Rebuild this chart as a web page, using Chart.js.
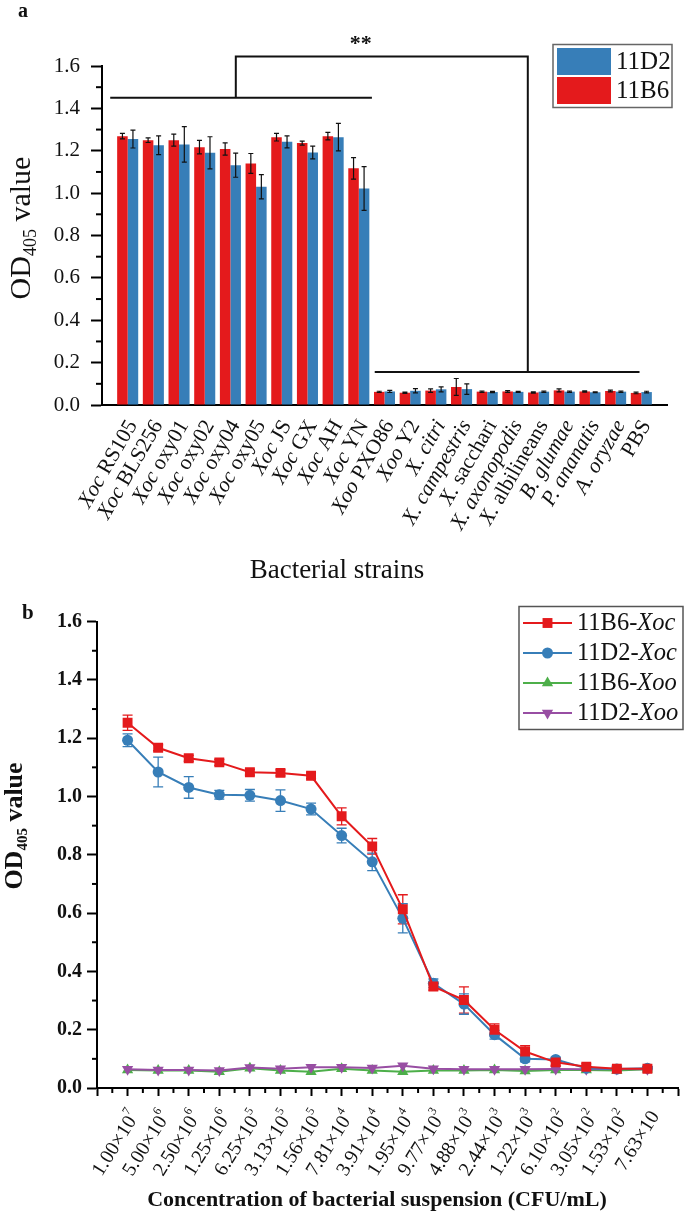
<!DOCTYPE html>
<html>
<head>
<meta charset="utf-8">
<script src="https://cdn.jsdelivr.net/npm/chart.js@4.4.1/dist/chart.umd.min.js"></script>
<style>
  html, body { margin: 0; padding: 0; background: #fff; }
  .wrap { position: relative; width: 685px; height: 1215px; }
  canvas { position: absolute; left: 0; }
  #chartA { top: 0; }
  #chartB { top: 600px; }
</style>
</head>
<body>
<div class="wrap">
  <canvas id="chartA" width="685" height="600"></canvas>
  <canvas id="chartB" width="685" height="615"></canvas>
</div>
<script>
// ---- panel a: strain specificity ----
const strains = ["Xoc RS105", "Xoc BLS256", "Xoc oxy01", "Xoc oxy02", "Xoc oxy04", "Xoc oxy05",
  "Xoc JS", "Xoc GX", "Xoc AH", "Xoc YN", "Xoo PXO86", "Xoo Y2", "X. citri", "X. campestris",
  "X. sacchari", "X. axonopodis", "X. albilineans", "B. glumae", "P. ananatis", "A. oryzae", "PBS"];
// italic leading part of each strain label
const strainItalic = ["Xoc", "Xoc", "Xoc", "Xoc", "Xoc", "Xoc", "Xoc", "Xoc", "Xoc", "Xoc", "Xoo", "Xoo",
  "X. citri", "X. campestris", "X.", "X. axonopodis", "X.", "B. glumae", "P. ananatis", "A. oryzae", ""];
const od11B6 = [1.269, 1.250, 1.250, 1.217, 1.208, 1.140, 1.264, 1.236, 1.269, 1.117,
  0.062, 0.058, 0.068, 0.085, 0.063, 0.064, 0.059, 0.069, 0.064, 0.066, 0.057];
const err11B6 = [0.013, 0.011, 0.028, 0.032, 0.029, 0.047, 0.018, 0.009, 0.018, 0.051,
  0.003, 0.003, 0.008, 0.040, 0.003, 0.004, 0.003, 0.007, 0.003, 0.004, 0.004];
const od11D2 = [1.255, 1.226, 1.230, 1.190, 1.132, 1.030, 1.242, 1.192, 1.264, 1.022,
  0.064, 0.067, 0.074, 0.075, 0.061, 0.062, 0.063, 0.063, 0.060, 0.063, 0.061];
const err11D2 = [0.042, 0.044, 0.084, 0.076, 0.057, 0.057, 0.028, 0.030, 0.065, 0.103,
  0.005, 0.010, 0.012, 0.025, 0.003, 0.002, 0.003, 0.003, 0.002, 0.003, 0.004];

// ---- panel b: sensitivity ----
const concMantissa = ["1.00", "5.00", "2.50", "1.25", "6.25", "3.13", "1.56", "7.81", "3.91",
  "1.95", "9.77", "4.88", "2.44", "1.22", "6.10", "3.05", "1.53", "7.63"];
const concExponent = ["7", "6", "6", "6", "5", "5", "5", "4", "4", "4", "3", "3", "3", "3", "2", "2", "2", ""];
const b6Xoc = [1.253, 1.167, 1.131, 1.117, 1.083, 1.081, 1.071, 0.932, 0.829, 0.613,
  0.348, 0.302, 0.200, 0.125, 0.088, 0.073, 0.066, 0.066];
const b6XocErr = [0.026, 0.010, 0.010, 0.010, 0.010, 0.010, 0.010, 0.029, 0.027, 0.050,
  0.012, 0.045, 0.020, 0.020, 0.010, 0.010, 0.005, 0.005];
const d2Xoc = [1.193, 1.084, 1.031, 1.006, 1.004, 0.986, 0.957, 0.866, 0.776, 0.582,
  0.359, 0.288, 0.183, 0.100, 0.098, 0.068, 0.065, 0.068];
const d2XocErr = [0.022, 0.051, 0.037, 0.015, 0.020, 0.037, 0.020, 0.025, 0.030, 0.050,
  0.015, 0.035, 0.015, 0.010, 0.008, 0.005, 0.005, 0.005];
const b6Xoo = [0.062, 0.060, 0.060, 0.056, 0.068, 0.060, 0.056, 0.066, 0.060, 0.056,
  0.060, 0.060, 0.062, 0.058, 0.062, 0.062, 0.060, 0.064];
const d2Xoo = [0.064, 0.062, 0.062, 0.060, 0.070, 0.066, 0.071, 0.071, 0.069, 0.076,
  0.066, 0.064, 0.064, 0.064, 0.065, 0.064, 0.065, 0.064];

const RED = "#e41a1c";
const BLUE = "#377eb8";
const GREEN = "#4daf4a";
const PURPLE = "#984ea3";
const SERIF = '"Liberation Serif", "Times New Roman", serif';

Chart.defaults.font.family = SERIF;
Chart.defaults.color = "#111";

// draw a run of text pieces, anchored by its right/center/left end, rotated ccw by angle
function drawParts(ctx, parts, x, y, opts) {
  const { angle = 0, align = "right", size = 20, weight = "normal", baseline = "middle" } = opts;
  const fontFor = (p) => `${p.italic ? "italic " : ""}${weight} ${p.size || size}px ${SERIF}`;
  let total = 0;
  parts.forEach((p) => { ctx.font = fontFor(p); total += ctx.measureText(p.text).width; });
  ctx.save();
  ctx.translate(x, y);
  ctx.rotate(-angle * Math.PI / 180);
  ctx.textBaseline = baseline;
  ctx.textAlign = "left";
  let cx = align === "right" ? -total : align === "center" ? -total / 2 : 0;
  parts.forEach((p) => {
    ctx.font = fontFor(p);
    ctx.fillText(p.text, cx, p.dy || 0);
    cx += ctx.measureText(p.text).width;
  });
  ctx.restore();
}

function pad(arr) {
  return [null, ...arr, null];
}

function zeroPadding(scale) {
  scale.paddingTop = 0;
  scale.paddingBottom = 0;
  scale.paddingLeft = 0;
  scale.paddingRight = 0;
}

function minorTicks(ctx, scale, values, len, vertical) {
  const area = scale.chart.chartArea;
  ctx.save();
  ctx.strokeStyle = "#000";
  ctx.lineWidth = 2;
  values.forEach((v) => {
    const p = scale.getPixelForValue(v);
    ctx.beginPath();
    if (vertical) {
      ctx.moveTo(area.left - len, p);
      ctx.lineTo(area.left, p);
    } else {
      ctx.moveTo(p, area.bottom);
      ctx.lineTo(p, area.bottom + len);
    }
    ctx.stroke();
  });
  ctx.restore();
}

const halfSteps = [0.1, 0.3, 0.5, 0.7, 0.9, 1.1, 1.3, 1.5];

// significance bracket, in (strain index, OD) units
const bracket = [
  [[-0.68, 1.45], [9.51, 1.45]],
  [[4.21, 1.45], [4.21, 1.645], [15.58, 1.645], [15.58, 0.156]],
  [[9.62, 0.156], [19.93, 0.156]],
];

const errorBarsA = {
  id: "errorBarsA",
  afterDatasetsDraw(chart) {
    const { ctx } = chart;
    const y = chart.scales.y;
    ctx.save();
    ctx.strokeStyle = "#111";
    ctx.lineWidth = 1.2;
    chart.data.datasets.forEach((ds, di) => {
      chart.getDatasetMeta(di).data.forEach((bar, i) => {
        const v = ds.data[i];
        if (v == null) return;
        const e = ds.errors[i];
        const t = y.getPixelForValue(v + e);
        const b = y.getPixelForValue(v - e);
        ctx.beginPath();
        ctx.moveTo(bar.x, t); ctx.lineTo(bar.x, b);
        ctx.moveTo(bar.x - 2.5, t); ctx.lineTo(bar.x + 2.5, t);
        ctx.moveTo(bar.x - 2.5, b); ctx.lineTo(bar.x + 2.5, b);
        ctx.stroke();
      });
    });
    ctx.restore();
  },
};

const decorA = {
  id: "decorA",
  afterDraw(chart) {
    const { ctx, chartArea } = chart;
    const { x, y } = chart.scales;
    minorTicks(ctx, y, halfSteps, 6, true);

    // strain labels
    ctx.fillStyle = "#111";
    strains.forEach((name, i) => {
      const it = strainItalic[i];
      const rest = name.slice(it.length);
      const parts = [];
      if (it) parts.push({ text: it, italic: true });
      if (rest) parts.push({ text: rest, italic: false });
      drawParts(ctx, parts, x.getPixelForValue(i + 1) + 5, chartArea.bottom + 17, { angle: 60, size: 21.5 });
    });
    drawParts(ctx, [{ text: "Bacterial strains" }], 337, 571, { align: "center", size: 27 });

    // y title
    drawParts(ctx, [{ text: "OD" }, { text: "405", size: 18, dy: 9 }, { text: " value" }], 22, 228,
      { angle: 90, align: "center", size: 30 });

    // panel letter
    drawParts(ctx, [{ text: "a" }], 18, 12, { align: "left", size: 20, weight: "bold" });

    // bracket
    ctx.save();
    ctx.strokeStyle = "#111";
    ctx.lineWidth = 2;
    bracket.forEach((path) => {
      ctx.beginPath();
      path.forEach(([px, py], k) => {
        const X = x.getPixelForValue(px + 1);
        const Y = y.getPixelForValue(py);
        if (k === 0) ctx.moveTo(X, Y); else ctx.lineTo(X, Y);
      });
      ctx.stroke();
    });
    ctx.restore();
    drawParts(ctx, [{ text: "**" }], x.getPixelForValue(10.08), 50,
      { align: "center", size: 22, weight: "bold", baseline: "alphabetic" });

    // legend
    ctx.save();
    ctx.strokeStyle = "#666";
    ctx.lineWidth = 1.5;
    ctx.strokeRect(553, 44.5, 119, 63);
    ctx.fillStyle = BLUE;
    ctx.fillRect(557, 48, 54, 27);
    ctx.fillStyle = RED;
    ctx.fillRect(557, 77, 54, 27);
    ctx.restore();
    ctx.fillStyle = "#111";
    drawParts(ctx, [{ text: "11D2" }], 616, 62, { align: "left", size: 25 });
    drawParts(ctx, [{ text: "11B6" }], 616, 91, { align: "left", size: 25 });
  },
};

new Chart(document.getElementById("chartA"), {
  type: "bar",
  data: {
    labels: pad(strains).map((s) => s || ""),
    datasets: [
      { label: "11B6", data: pad(od11B6), errors: pad(err11B6), backgroundColor: RED },
      { label: "11D2", data: pad(od11D2), errors: pad(err11D2), backgroundColor: BLUE },
    ],
  },
  options: {
    responsive: false,
    animation: false,
    devicePixelRatio: 1,
    layout: { padding: { top: 66, right: 18, bottom: 0, left: 0 } },
    datasets: { bar: { categoryPercentage: 0.82, barPercentage: 1 } },
    plugins: { legend: { display: false }, tooltip: { enabled: false } },
    scales: {
      x: {
        offset: false,
        grid: { display: false },
        ticks: { display: false },
        border: { color: "#000", width: 2 },
        afterFit(scale) { scale.height = 195; zeroPadding(scale); },
      },
      y: {
        min: 0,
        max: 1.6,
        ticks: {
          stepSize: 0.2,
          padding: 11,
          color: "#111",
          font: { size: 21 },
          callback: (v) => v.toFixed(1),
        },
        grid: { drawOnChartArea: false, tickLength: 11, tickColor: "#000", tickWidth: 2 },
        border: { color: "#000", width: 2 },
        afterFit(scale) { scale.width = 102; zeroPadding(scale); },
      },
    },
  },
  plugins: [errorBarsA, decorA],
});

// ---- chart b ----
const seriesB = [
  { name: "11B6-", tag: "Xoc", data: b6Xoc, errors: b6XocErr, color: RED, style: "rect", radius: 7, rotation: 0, order: 0 },
  { name: "11D2-", tag: "Xoc", data: d2Xoc, errors: d2XocErr, color: BLUE, style: "circle", radius: 5.5, rotation: 0, order: 1 },
  { name: "11B6-", tag: "Xoo", data: b6Xoo, errors: null, color: GREEN, style: "triangle", radius: 6.5, rotation: 0, order: 3 },
  { name: "11D2-", tag: "Xoo", data: d2Xoo, errors: null, color: PURPLE, style: "triangle", radius: 6.5, rotation: 180, order: 2 },
];

function drawMarker(ctx, s, x, y) {
  ctx.save();
  ctx.fillStyle = s.color;
  ctx.translate(x, y);
  ctx.rotate(s.rotation * Math.PI / 180);
  ctx.beginPath();
  if (s.style === "rect") {
    const h = s.radius * Math.SQRT1_2;
    ctx.rect(-h, -h, 2 * h, 2 * h);
  } else if (s.style === "circle") {
    ctx.arc(0, 0, s.radius, 0, Math.PI * 2);
  } else {
    const r = s.radius;
    ctx.moveTo(0, -r);
    ctx.lineTo(r * 0.866, r * 0.5);
    ctx.lineTo(-r * 0.866, r * 0.5);
    ctx.closePath();
  }
  ctx.fill();
  ctx.restore();
}

const errorBarsB = {
  id: "errorBarsB",
  beforeDatasetsDraw(chart) {
    const { ctx } = chart;
    const { x, y } = chart.scales;
    ctx.save();
    ctx.lineWidth = 1.3;
    seriesB.forEach((s) => {
      if (!s.errors) return;
      ctx.strokeStyle = s.color;
      s.data.forEach((v, i) => {
        const X = x.getPixelForValue(i);
        const t = y.getPixelForValue(v + s.errors[i]);
        const b = y.getPixelForValue(v - s.errors[i]);
        ctx.beginPath();
        ctx.moveTo(X, t); ctx.lineTo(X, b);
        ctx.moveTo(X - 5, t); ctx.lineTo(X + 5, t);
        ctx.moveTo(X - 5, b); ctx.lineTo(X + 5, b);
        ctx.stroke();
      });
    });
    ctx.restore();
  },
};

const decorB = {
  id: "decorB",
  afterDraw(chart) {
    const { ctx, chartArea } = chart;
    const { x, y } = chart.scales;
    minorTicks(ctx, y, halfSteps, 5, true);
    minorTicks(ctx, x, concMantissa.map((_, i) => i - 0.5).concat([17.5]), 5, false);

    ctx.fillStyle = "#111";
    concMantissa.forEach((m, i) => {
      const parts = [{ text: m + "\u00d710" }];
      if (concExponent[i]) parts.push({ text: concExponent[i], size: 12, dy: -8 });
      drawParts(ctx, parts, x.getPixelForValue(i) + 8, chartArea.bottom + 25, { angle: 58, size: 20 });
    });
    drawParts(ctx, [{ text: "Concentration of bacterial suspension (CFU/mL)" }], 377, 600,
      { align: "center", size: 22, weight: "bold" });

    drawParts(ctx, [{ text: "OD" }, { text: "405", size: 15, dy: 8 }, { text: " value" }], 15, 226,
      { angle: 90, align: "center", size: 26, weight: "bold" });

    drawParts(ctx, [{ text: "b" }], 22, 14, { align: "left", size: 21, weight: "bold" });

    // legend
    ctx.save();
    ctx.strokeStyle = "#555";
    ctx.lineWidth = 1.5;
    ctx.strokeRect(519, 6.5, 164, 123);
    ctx.restore();
    seriesB.forEach((s, k) => {
      const ly = 23 + k * 30;
      ctx.save();
      ctx.strokeStyle = s.color;
      ctx.lineWidth = 2;
      ctx.beginPath();
      ctx.moveTo(523, ly);
      ctx.lineTo(572, ly);
      ctx.stroke();
      ctx.restore();
      drawMarker(ctx, s, 547.5, ly);
      ctx.fillStyle = "#111";
      drawParts(ctx, [{ text: s.name }, { text: s.tag, italic: true }], 577, ly + 1, { align: "left", size: 24.5 });
    });
  },
};

new Chart(document.getElementById("chartB"), {
  type: "line",
  data: {
    datasets: seriesB.map((s) => ({
      label: s.name + s.tag,
      data: s.data.map((v, i) => ({ x: i, y: v })),
      borderColor: s.color,
      backgroundColor: s.color,
      borderWidth: 2,
      pointStyle: s.style,
      pointRadius: s.radius,
      pointRotation: s.rotation,
      pointBorderWidth: 0,
      order: s.order,
    })),
  },
  options: {
    responsive: false,
    animation: false,
    devicePixelRatio: 1,
    layout: { padding: { top: 21.6, right: 5, bottom: 0, left: 0 } },
    plugins: { legend: { display: false }, tooltip: { enabled: false } },
    scales: {
      x: {
        type: "linear",
        min: -1,
        max: 18,
        ticks: { stepSize: 1, display: false },
        grid: { drawOnChartArea: false, tickLength: 8, tickColor: "#000", tickWidth: 2 },
        border: { color: "#000", width: 2 },
        afterFit(scale) { scale.height = 127; zeroPadding(scale); },
      },
      y: {
        min: 0,
        max: 1.6,
        ticks: {
          stepSize: 0.2,
          padding: 5,
          color: "#111",
          font: { size: 20, weight: "bold" },
          callback: (v) => v.toFixed(1),
        },
        grid: { drawOnChartArea: false, tickLength: 10, tickColor: "#000", tickWidth: 2 },
        border: { color: "#000", width: 2 },
        afterFit(scale) { scale.width = 97; zeroPadding(scale); },
      },
    },
  },
  plugins: [errorBarsB, decorB],
});
</script>
</body>
</html>
